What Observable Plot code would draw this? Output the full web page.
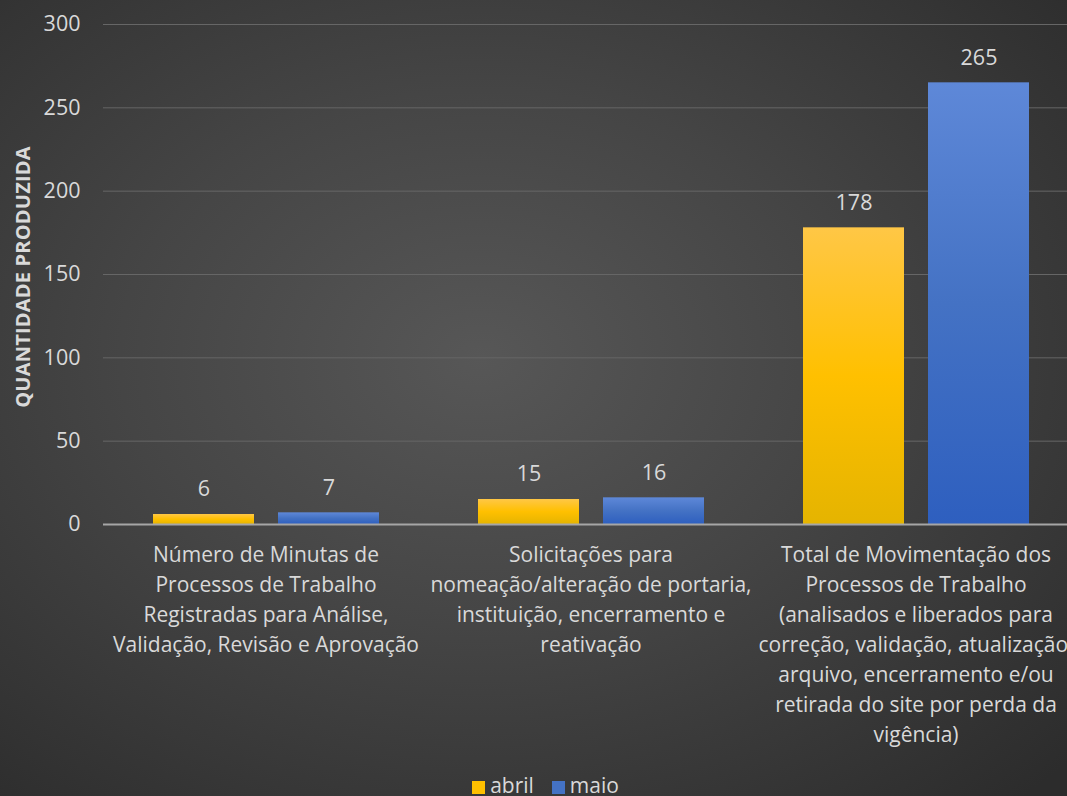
<!DOCTYPE html>
<html>
<head>
<meta charset="utf-8">
<script src="https://cdn.jsdelivr.net/npm/d3@7"></script>
<script src="https://cdn.jsdelivr.net/npm/@observablehq/plot@0.6"></script>
<style>
  html, body { margin: 0; padding: 0; width: 1067px; height: 796px; overflow: hidden; }
  body {
    background: radial-gradient(ellipse 75% 75% at 45% 45%, #575757 0%, #454545 45%, #2c2c2c 100%);
    font-family: "Open Sans", Lato, sans-serif;
    position: relative;
  }
  #chart { position: absolute; left: 0; top: 0; }
  #ytitle {
    position: absolute; left: 22px; top: 277px;
    transform: translate(-50%, -50%) rotate(-90deg);
    white-space: nowrap; color: #d9d9d9; font-weight: bold; font-size: 20px; letter-spacing: 0.2px;
  }
  #legend {
    position: absolute; top: 771px; left: 24px; width: 1043px; text-align: center;
    color: #d9d9d9; font-size: 21px; line-height: 28px;
  }
  #legend span.sw { display: inline-block; width: 13px; height: 13px; margin-right: 5px; vertical-align: -1px; }
  #legend span.item { margin: 0 9px; }
</style>
</head>
<body>
<div id="chart"></div>
<div id="ytitle">QUANTIDADE PRODUZIDA</div>
<div id="legend"></div>
<script>
const categories = [
  "Número de Minutas de\nProcessos de Trabalho\nRegistradas para Análise,\nValidação, Revisão e Aprovação",
  "Solicitações para\nnomeação/alteração de portaria,\ninstituição, encerramento e\nreativação",
  "Total de Movimentação dos\nProcessos de Trabalho\n(analisados e liberados para\ncorreção, validação, atualização,\narquivo, encerramento e/ou\nretirada do site por perda da\nvigência)"
];
const series = ["abril", "maio"];
const abrilValues = [6, 15, 178];
const maioValues = [7, 16, 265];
const yTicks = [0, 50, 100, 150, 200, 250, 300];
const seriesColors = ["#ffc000", "#4472c4"];

const data = [];
categories.forEach((c, i) => {
  data.push({cat: c, serie: "abril", value: abrilValues[i]});
  data.push({cat: c, serie: "maio", value: maioValues[i]});
});

const plot = Plot.plot({
  width: 1067,
  height: 760,
  marginTop: 24,
  marginBottom: 236,
  marginLeft: 103,
  marginRight: -11,
  style: {background: "transparent", color: "#d9d9d9", fontFamily: "'Open Sans', Lato, sans-serif"},
  fx: {domain: categories, padding: 0},
  x: {domain: series, paddingInner: 0.192, paddingOuter: 0.392, axis: null},
  y: {domain: [0, 300]},
  color: {domain: series, range: ["url(#gradAbril)", "url(#gradMaio)"]},
  marks: [
    Plot.gridY(yTicks, {stroke: "#666666", strokeOpacity: 1, strokeWidth: 1}),
    Plot.axisY({ticks: yTicks, tickSize: 0, tickPadding: 23, fontSize: 21.5, label: null}),
    Plot.axisFx({anchor: "bottom", tickSize: 0, tickPadding: 16, fontSize: 21, lineHeight: 1.43, label: null}),
    Plot.barY(data, {fx: "cat", x: "serie", y: "value", fill: "serie"}),
    Plot.ruleY([0], {stroke: "#a6a6a6", strokeWidth: 2}),
    Plot.text(data, {fx: "cat", x: "serie", y: "value", text: d => String(d.value), dy: -25, fontSize: 21.5, fill: "#d9d9d9"})
  ]
});

// gradients for bar fills
const svg = d3.select(plot.tagName.toLowerCase() === "svg" ? plot : plot.querySelector("svg"));
const defs = svg.insert("defs", ":first-child");
const ga = defs.append("linearGradient").attr("id", "gradAbril").attr("x1", 0).attr("y1", 0).attr("x2", 0).attr("y2", 1);
ga.append("stop").attr("offset", "0%").attr("stop-color", "#ffc746");
ga.append("stop").attr("offset", "50%").attr("stop-color", "#ffc000");
ga.append("stop").attr("offset", "100%").attr("stop-color", "#e5b400");
const gm = defs.append("linearGradient").attr("id", "gradMaio").attr("x1", 0).attr("y1", 0).attr("x2", 0).attr("y2", 1);
gm.append("stop").attr("offset", "0%").attr("stop-color", "#5e88d8");
gm.append("stop").attr("offset", "50%").attr("stop-color", "#4472c4");
gm.append("stop").attr("offset", "100%").attr("stop-color", "#2e5fbf");

document.getElementById("chart").appendChild(plot);

const legend = document.getElementById("legend");
series.forEach((s, i) => {
  const item = document.createElement("span");
  item.className = "item";
  const sw = document.createElement("span");
  sw.className = "sw";
  sw.style.background = seriesColors[i];
  item.appendChild(sw);
  item.appendChild(document.createTextNode(s));
  legend.appendChild(item);
});
</script>
</body>
</html>
